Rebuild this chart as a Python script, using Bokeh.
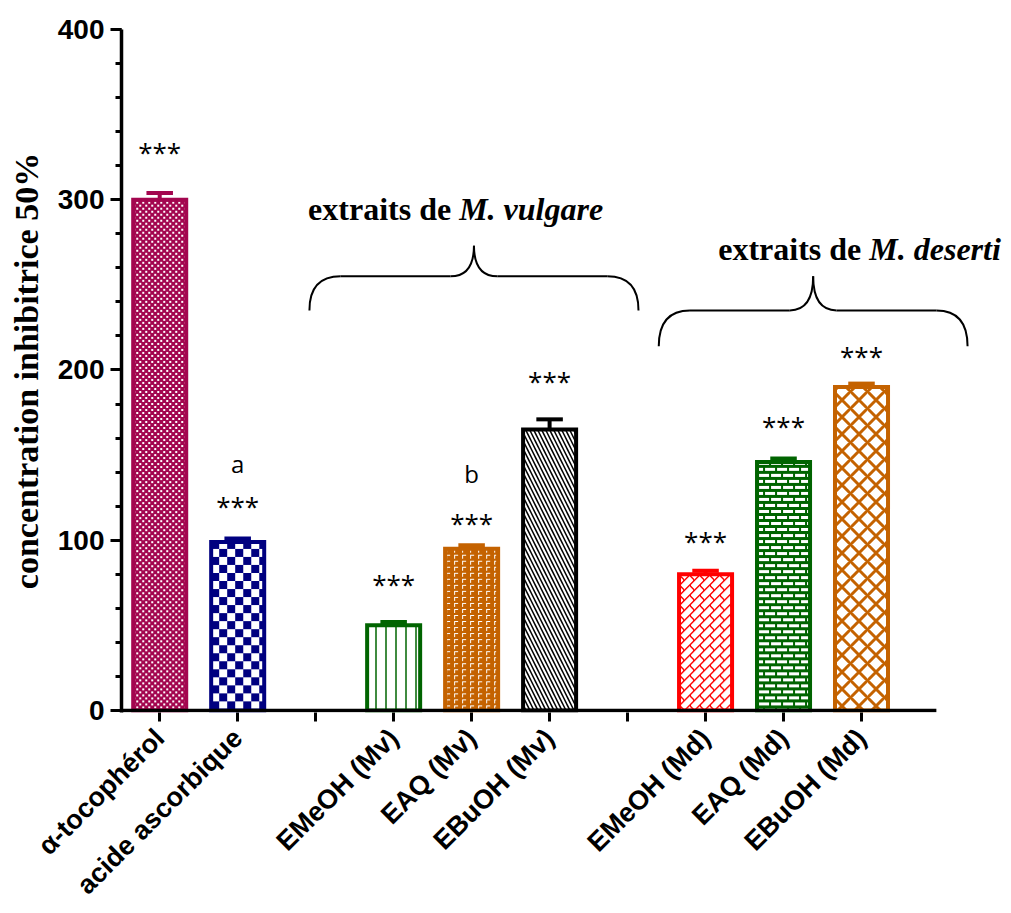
import math
import numpy as np
from bokeh.plotting import figure
from bokeh.models import Range1d, FixedTicker
from bokeh.core.properties import value
from bokeh.embed import file_html
from bokeh.resources import INLINE

# ---------------- data ----------------
groups = [
    ["α-tocophérol", "acide ascorbique"],
    ["EMeOH (Mv)", "EAQ (Mv)", "EBuOH (Mv)"],
    ["EMeOH (Md)", "EAQ (Md)", "EBuOH (Md)"],
]
values = [300, 99, 50, 95, 165, 80, 146, 190]
errors = [4, 2, 2, 2, 6, 2, 2, 2]
stars = ["***"] * 8
letters = ["", "a", "", "b", "", "", "", ""]
group_titles = [None, ("extraits de ", "M. vulgare"), ("extraits de ", "M. deserti")]
y_ticks = [0, 100, 200, 300, 400]
y_minor = list(range(0, 401, 20))
y_title = "concentration inhibitrice 50%"

# ---------------- layout of category slots (one empty slot between groups) ----------------
labels, xs, tick_pos, overrides, group_centers = [], [], [], {}, []
slot = 0
for gi, g in enumerate(groups):
    if gi > 0:
        tick_pos.append(slot)
        overrides[slot] = ""
        slot += 1
    start = slot
    for name in g:
        labels.append(name)
        xs.append(slot)
        tick_pos.append(slot)
        overrides[slot] = name
        slot += 1
    group_centers.append((start + slot - 1) / 2)
last_slot = slot - 1

# ---------------- styles ----------------
MAROON = "#A3064F"
NAVY = "#000080"
GREEN = "#006400"
ORANGE = "#C46200"
RED = "#FF0000"
BLACK = "#000000"
WHITE = "#FFFFFF"

bar_styles = [
    dict(color=MAROON, base=MAROON, ink=WHITE, texture="check_small"),
    dict(color=NAVY, base=WHITE, ink=NAVY, texture="check_big"),
    dict(color=GREEN, base=WHITE, ink=GREEN, hatch="vertical_line", scale=10, weight=1.5),
    dict(color=ORANGE, base=ORANGE, ink=WHITE, texture="gamma"),
    dict(color=BLACK, base=WHITE, ink=BLACK, hatch="left_diagonal_line", scale=8, weight=1.5),
    dict(color=RED, base=WHITE, ink=RED, texture="diagbrick"),
    dict(color=GREEN, base=GREEN, ink=WHITE, texture="brick"),
    dict(color=ORANGE, base=WHITE, ink=ORANGE, hatch="diagonal_cross", scale=17, weight=3),
]
star_gap_px = [41, 33, 38, 22, 38, 30, 33, 28]
letter_gap_px = [0, 42, 0, 50, 0, 0, 0, 0]

brace_style = [None,
               dict(dx=0.03, half=2.11, ye=235, yf=255, yt=273),
               dict(dx=0.38, half=1.98, ye=214, yf=235, yt=255)]
title_pos = [None, (3.84, 294.5), (9.10, 271)]

BAR_W = 0.68
CAP_HALF = 0.17
X0, X1 = -0.49, 10.885
Y0, Y1 = -1.2, 400
FW, FH = 887, 683
XPX = FW / (X1 - X0)
YPX = FH / (Y1 - Y0)


def hex_rgb(h):
    h = h.lstrip("#")
    return [int(h[i:i + 2], 16) for i in (0, 2, 4)]


def texture_mask(kind, H, W):
    r, c = np.mgrid[0:H, 0:W]
    if kind == "check_small":
        return (((r // 3 + c // 3) % 2) == 0) & (r % 3 < 2) & (c % 3 < 2)
    if kind == "check_big":
        return ((r // 8 + c // 8) % 2) == 0
    if kind == "gamma":
        return (((r % 6) == 1) & (c % 8 >= 1) & (c % 8 <= 4)) | (((c % 8) == 1) & (r % 6 >= 1) & (r % 6 <= 4))
    if kind == "diagbrick":
        s = r + c
        k = s // 10
        line = (s % 10) < 2
        spur = ((r - c + 10 * k) % 20) < 2
        return line | spur
    if kind == "brick":
        row = (r % 6 >= 1) & (r % 6 <= 3)
        mortar = ((c + 6 * ((r // 6) % 2)) % 12) < 2
        return row & ~mortar
    return np.zeros((H, W), dtype=bool)


def texture_image(kind, base, ink, H, W):
    rgba = np.zeros((H, W, 4), dtype=np.uint8)
    rgba[..., :3] = hex_rgb(base)
    rgba[..., 3] = 255
    m = texture_mask(kind, H, W)
    rgba[m, :3] = hex_rgb(ink)
    rgba = np.ascontiguousarray(rgba[::-1])
    return rgba.view(np.uint32).reshape(H, W)


p = figure(frame_width=FW, frame_height=FH,
           x_range=Range1d(X0, X1), y_range=Range1d(Y0, Y1),
           output_backend="svg", toolbar_location=None,
           min_border_left=121, min_border_right=0, min_border_top=29, min_border_bottom=201)
p.xgrid.visible = False
p.ygrid.visible = False
p.outline_line_color = None
p.background_fill_color = "white"

# bars
for i, (x, v, e) in enumerate(zip(xs, values, errors)):
    s = bar_styles[i]
    if "texture" in s:
        W = int(round(BAR_W * XPX))
        H = int(round(v * YPX))
        img = texture_image(s["texture"], s["base"], s["ink"], H, W)
        p.image_rgba(image=[img], x=x - BAR_W / 2, y=0, dw=BAR_W, dh=v)
        p.vbar(x=[x], top=[v], bottom=0, width=BAR_W, fill_color=None,
               line_color=s["color"], line_width=4, line_join="miter")
    else:
        p.vbar(x=[x], top=[v], bottom=0, width=BAR_W, fill_color=s["base"],
               line_color=s["color"], line_width=4, line_join="miter",
               hatch_pattern=s["hatch"], hatch_color=s["ink"], hatch_scale=s["scale"],
               hatch_weight=s["weight"], hatch_alpha=1.0)
    # error bar (upper only)
    p.segment(x0=[x], y0=[v], x1=[x], y1=[v + e], line_color=s["color"], line_width=4)
    p.segment(x0=[x - CAP_HALF], y0=[v + e], x1=[x + CAP_HALF], y1=[v + e],
              line_color=s["color"], line_width=4)
    # significance marks
    p.text(x=[x], y=[v + e], text=[stars[i]], y_offset=-star_gap_px[i],
           text_align="center", text_baseline="middle",
           text_font=value("Open Sans"), text_font_size="26px", text_color="black")
    if letters[i]:
        p.text(x=[x], y=[v + e], text=[letters[i]], y_offset=-(star_gap_px[i] + letter_gap_px[i]),
               text_align="center", text_baseline="middle",
               text_font=value("Open Sans"), text_font_size="24px", text_color="black")

# x baseline
p.segment(x0=[X0], y0=[0], x1=[last_slot + 0.96], y1=[0], line_color="black", line_width=3.5)

# braces and group titles
for gi, c in enumerate(group_centers):
    b = brace_style[gi]
    if b is None:
        continue
    xt = c + b["dx"]
    xl, xr = xt - b["half"], xt + b["half"]
    do, di = 0.40, 0.30
    ye, yf, yt = b["ye"], b["yf"], b["yt"]
    p.quadratic(x0=[xl, xt - di, xt, xr - do], y0=[ye, yf, yt, yf],
                x1=[xl + do, xt, xt + di, xr], y1=[yf, yt, yf, ye],
                cx=[xl, xt, xt, xr], cy=[yf, yf, yf, yf],
                line_color="black", line_width=2)
    p.segment(x0=[xl + do, xt + di], y0=[yf, yf], x1=[xt - di, xr - do], y1=[yf, yf],
              line_color="black", line_width=2)
    tx, ty = title_pos[gi]
    t1, t2 = group_titles[gi]
    p.text(x=[tx], y=[ty], text=[t1], text_align="right", text_baseline="alphabetic",
           text_font=value("Liberation Serif"), text_font_style="bold",
           text_font_size="32px", text_color="black")
    p.text(x=[tx], y=[ty], text=[t2], text_align="left", text_baseline="alphabetic",
           text_font=value("Liberation Serif"), text_font_style="bold italic",
           text_font_size="32px", text_color="black")

# y axis
ya = p.yaxis[0]
ya.ticker = FixedTicker(ticks=y_ticks, minor_ticks=y_minor)
ya.axis_line_width = 3.5
ya.major_tick_line_width = 3
ya.minor_tick_line_width = 3
ya.major_tick_out = 11
ya.major_tick_in = 0
ya.minor_tick_out = 6
ya.minor_tick_in = 0
ya.major_label_standoff = 6
ya.major_label_text_font = "Liberation Sans"
ya.major_label_text_font_style = "bold"
ya.major_label_text_font_size = "28px"
ya.major_label_text_color = "black"
ya.axis_label = y_title
ya.axis_label_text_font = "Liberation Serif"
ya.axis_label_text_font_style = "bold"
ya.axis_label_text_font_size = "34px"
ya.axis_label_text_color = "black"
ya.axis_label_standoff = 10

# x axis
xa = p.xaxis[0]
xa.ticker = FixedTicker(ticks=tick_pos, minor_ticks=[])
xa.major_label_overrides = overrides
xa.major_label_orientation = math.pi / 4
xa.axis_line_color = None
xa.major_tick_line_width = 3
xa.major_tick_out = 9
xa.major_tick_in = 0
xa.minor_tick_line_color = None
xa.major_label_standoff = 12
xa.major_label_text_font = "Liberation Sans"
xa.major_label_text_font_style = "bold"
xa.major_label_text_font_size = "27px"
xa.major_label_text_color = "black"

open("out.html", "w").write(file_html(p, INLINE))
